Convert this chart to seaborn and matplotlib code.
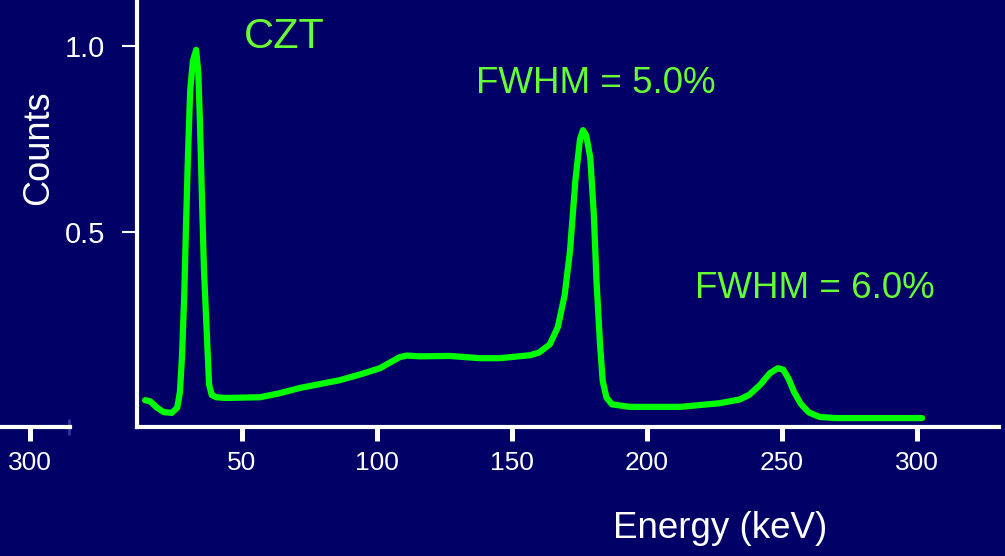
import matplotlib
matplotlib.use("Agg")
import matplotlib.pyplot as plt
import seaborn as sns
import pandas as pd

# ---- data ----
energy_kev = [14.1, 16.0, 18.5, 21.0, 24.0, 26.0, 27.0, 27.8, 28.6, 29.3, 30.0, 30.8,
              31.8, 33.0, 33.8, 34.4, 35.2, 35.9, 37.0, 37.8, 38.8, 40.5, 44.0, 56.7,
              64.1, 71.5, 86.3, 95.0, 101.1, 105.0, 108.5, 111.0, 115.9, 127.0, 138.1,
              145.6, 156.7, 160.0, 164.0, 167.0, 169.5, 171.5, 173.5, 175.2, 176.3,
              177.5, 179.0, 180.3, 181.3, 182.6, 183.6, 185.0, 187.0, 193.7, 212.2,
              227.0, 234.4, 238.0, 242.0, 245.6, 248.5, 250.5, 252.5, 254.5, 257.0,
              260.0, 264.0, 270.0, 301.9]
counts = [0.048, 0.045, 0.028, 0.016, 0.014, 0.028, 0.070, 0.170, 0.330, 0.530, 0.710, 0.880,
          0.960, 0.990, 0.930, 0.800, 0.580, 0.400, 0.220, 0.090, 0.062, 0.056, 0.054, 0.056,
          0.067, 0.081, 0.102, 0.120, 0.134, 0.150, 0.164, 0.168, 0.166, 0.167, 0.161,
          0.161, 0.169, 0.176, 0.198, 0.245, 0.330, 0.450, 0.640, 0.750, 0.774,
          0.760, 0.700, 0.550, 0.370, 0.200, 0.100, 0.055, 0.037, 0.030, 0.030,
          0.040, 0.050, 0.063, 0.090, 0.121, 0.134, 0.130, 0.105, 0.070, 0.038,
          0.015, 0.003, 0.000, 0.000]
x_ticks = [50, 100, 150, 200, 250, 300]
y_ticks = [0.5, 1.0]
y_tick_labels = ["0.5", "1.0"]
annotations = [("CZT", 50.7, 0.995, 30), ("FWHM = 5.0%", 136.7, 0.874, 26.5),
               ("FWHM = 6.0%", 217.8, 0.323, 26.5)]
fragment_tick = [300]

BG = "#000066"
LINE = "#00ff00"
TXT_GREEN = "#66ff33"

sns.set_theme(style="ticks")
plt.rcParams["font.family"] = ["Liberation Sans", "DejaVu Sans"]
plt.rcParams["xtick.bottom"] = True
plt.rcParams["ytick.left"] = True

fig = plt.figure(figsize=(10.05, 5.56), dpi=100, facecolor=BG)

W, H = 1005.0, 556.0
left_px, right_px, bottom_px = 137, 999, 427
ax = fig.add_axes([left_px / W, (H - bottom_px) / H, (right_px - left_px) / W, bottom_px / H])
ax.set_facecolor(BG)

df = pd.DataFrame({"Energy": energy_kev, "Counts": counts})
sns.lineplot(data=df, x="Energy", y="Counts", ax=ax, color=LINE, linewidth=4.5,
             solid_joinstyle="round", solid_capstyle="round")

ax.set_xlim(11.1, 330.4)
ax.set_ylim(-0.024, 1.124)
ax.set_xticks(x_ticks)
ax.set_xticklabels([str(t) for t in x_ticks])
ax.set_yticks(y_ticks)
ax.set_yticklabels(y_tick_labels)

for s in ["top", "right"]:
    ax.spines[s].set_visible(False)
for s in ["left", "bottom"]:
    ax.spines[s].set_color("white")
    ax.spines[s].set_linewidth(3.0)

ax.tick_params(axis="x", which="major", colors="white", labelsize=19, length=10, width=3.6,
               direction="out", pad=7, bottom=True)
ax.tick_params(axis="y", which="major", colors="white", labelsize=21, length=11, width=1.5,
               direction="out", pad=12, left=True)

ax.set_xlabel("Energy (keV)", color="white", fontsize=26.5)
ax.xaxis.set_label_coords(0.676, -0.197)
ax.set_ylabel("Counts", color="white", fontsize=26)
ax.yaxis.set_label_coords(-0.094, 0.655)

for txt, ex, cy, fs in annotations:
    ax.text(ex, cy, txt, color=TXT_GREEN, fontsize=fs, ha="left", va="baseline")

# fragment of a neighbouring axis at the far left
ax2 = fig.add_axes([0.0, (H - bottom_px) / H, 70 / W, 0.05])
ax2.patch.set_visible(False)
ax2.set_xlim(288.9, 314.8)
ax2.set_ylim(0, 1)
for s in ["top", "right", "left"]:
    ax2.spines[s].set_visible(False)
ax2.spines["bottom"].set_color("white")
ax2.spines["bottom"].set_linewidth(3.0)
ax2.set_yticks([])
ax2.set_xticks(fragment_tick)
ax2.set_xticklabels([str(t) for t in fragment_tick])
ax2.tick_params(axis="x", which="major", colors="white", labelsize=19, length=10, width=3.6,
                direction="out", pad=7, bottom=True)
ax2.set_xticks([314.6], minor=True)
ax2.tick_params(axis="x", which="minor", direction="inout", length=11, width=2,
                color="#3333aa", bottom=True)

fig.savefig("out.png", dpi=100, facecolor=BG)
